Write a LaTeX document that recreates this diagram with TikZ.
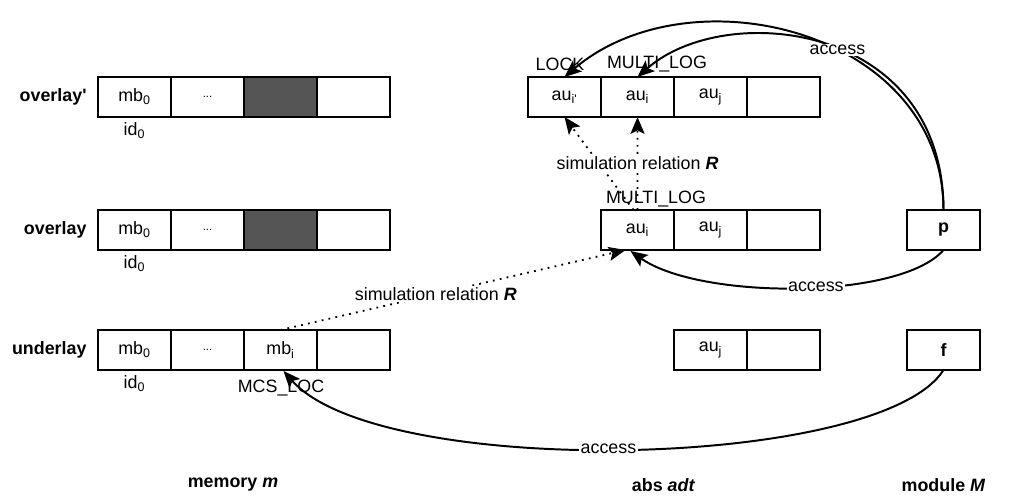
\documentclass[tikz,border=0pt]{standalone}
\usepackage{fontspec}
\setmainfont{Liberation Sans}
\usepackage{xcolor}
\usepackage{tikz}
\usetikzlibrary{arrows.meta,positioning,calc}

\definecolor{cellgray}{HTML}{555555}
\newcommand{\diagfont}{\fontsize{12.7}{15}\selectfont}
\newcommand{\dotsfont}{\fontsize{8}{10}\selectfont}

\begin{document}
\begin{tikzpicture}[
    x=0.025cm, y=-0.025cm,
    cell/.style={rectangle, draw=black, line width=1.4pt, minimum width=1.825cm, minimum height=1cm, inner sep=0pt, outer sep=0pt, font=\diagfont},
    shaded/.style={cell, fill=cellgray},
    txt/.style={inner sep=1pt, font=\diagfont},
    rowlbl/.style={inner sep=0pt, font=\diagfont\bfseries},
    lbl/.style={fill=white, inner sep=1pt, font=\diagfont},
    access/.style={-{Stealth[length=12pt, width=10pt, inset=2.5pt]}, line width=1.4pt},
    simrel/.style={-{Stealth[length=12pt, width=10pt, inset=2.5pt]}, line width=1.3pt, dash pattern=on 1.3pt off 3.7pt}
]
    \useasboundingbox (0,0) rectangle (1016,501);

    % memory m
    \node [cell] (ovpmb) at (134.5,97) {mb\textsubscript{0}};
    \node [cell, right=0pt of ovpmb] (ovpdots) {\dotsfont ...};
    \node [shaded, right=0pt of ovpdots] (ovpgray) {};
    \node [cell, right=0pt of ovpgray] (ovpfree) {};
    \node [rowlbl, left=0.28cm of ovpmb] (ovplbl) {overlay\textquotesingle};
    \node [txt, below=0.1cm of ovpmb] (ovpid) {id\textsubscript{0}};

    \node [cell] (ovmb) at (134.5,230) {mb\textsubscript{0}};
    \node [cell, right=0pt of ovmb] (ovdots) {\dotsfont ...};
    \node [shaded, right=0pt of ovdots] (ovgray) {};
    \node [cell, right=0pt of ovgray] (ovfree) {};
    \node [rowlbl, left=0.28cm of ovmb] (ovlbl) {overlay};
    \node [txt, below=0.1cm of ovmb] (ovid) {id\textsubscript{0}};

    \node [cell] (unmb) at (134.5,350) {mb\textsubscript{0}};
    \node [cell, right=0pt of unmb] (undots) {\dotsfont ...};
    \node [cell, right=0pt of undots] (unmbi) {mb\textsubscript{i}};
    \node [cell, right=0pt of unmbi] (unfree) {};
    \node [rowlbl, left=0.28cm of unmb] (unlbl) {underlay};
    \node [txt, below=0.1cm of unmb] (unid) {id\textsubscript{0}};
    \node [txt] (mcsloc) at (281,388) {MCS\_LOC};

    % abs adt
    \node [cell] (ovpau1) at (564.5,97) {au\textsubscript{i\textquotesingle}};
    \node [cell, right=0pt of ovpau1] (ovpaui) {au\textsubscript{i}};
    \node [cell, right=0pt of ovpaui] (ovpauj) {au\textsubscript{j}};
    \node [cell, right=0pt of ovpauj] (ovpaufree) {};
    \node [txt] (lock) at (560,64) {LOCK};
    \node [txt] (mlog1) at (657,64) {MULTI\_LOG};

    \node [cell] (ovaui) at (637.5,230) {au\textsubscript{i}};
    \node [cell, right=0pt of ovaui] (ovauj) {au\textsubscript{j}};
    \node [cell, right=0pt of ovauj] (ovaufree) {};
    \node [txt] (mlog2) at (656,199) {MULTI\_LOG};

    \node [cell] (unauj) at (710.5,350) {au\textsubscript{j}};
    \node [cell, right=0pt of unauj] (unaufree) {};

    % module M
    \node [cell, font=\diagfont\bfseries] (p) at (943.5,230) {p};
    \node [cell, font=\diagfont\bfseries] (f) at (943.5,350) {f};

    % column titles
    \node [rowlbl] (memt) at (233,485) {memory \textit{m}};
    \node [rowlbl] (adtt) at (663.5,485) {abs \textit{adt}};
    \node [rowlbl] (modt) at (943.5,485) {module \textit{M}};

    % simulation relations
    \draw [simrel] ($(ovaui.north)+(-4,0)$) -- (ovpau1.south);
    \draw [simrel] (ovaui.north) -- (ovpaui.south)
        node [lbl, pos=0.5] {simulation relation \textbf{\textit{R}}};
    \draw [simrel] (unmbi.north) -- ($(ovaui.south)+(-12,0)$)
        node [lbl, pos=0.45] {simulation relation \textbf{\textit{R}}};

    % accesses
    \draw [access] (p.north) .. controls (943,22) and (725,0) .. (ovpaui.north);
    \draw [access] (p.north) .. controls (943,30) and (690,-30) .. (ovpau1.north)
        node [lbl, pos=0.42] {access};
    \draw [access] (p.south) .. controls (900,300) and (700,300) .. ($(ovaui.south)+(-7,1)$)
        node [lbl, pos=0.45] {access};
    \draw [access] (f.south) .. controls (880,470) and (380,480) .. ($(unmbi.south)+(3,1)$)
        node [lbl, pos=0.52] {access};
\end{tikzpicture}
\end{document}
